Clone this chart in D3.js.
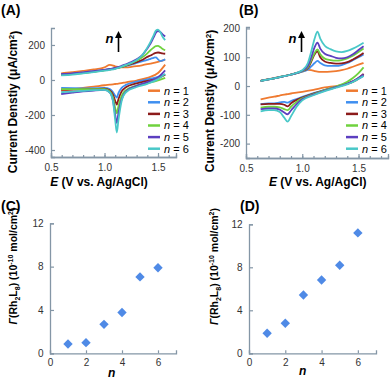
<!DOCTYPE html>
<html>
<head>
<meta charset="utf-8">
<script src="https://cdn.jsdelivr.net/npm/d3@7"></script>
<style>
body { margin: 0; background: #fff; }
text { font-family: "Liberation Sans", Arial, sans-serif; }
</style>
</head>
<body>
<div id="chart"></div>
<script>
// ---- data ----
var nValues = [1, 2, 3, 4, 5, 6];
var lineColors = ["#ef7a30", "#3f8ff0", "#8c1b1b", "#6fd23e", "#5c3fc0", "#49c8c8"];

// (A) forward scan
var aUpperE = [0.595, 0.7, 0.8, 0.9, 1.0, 1.05, 1.1, 1.15, 1.2, 1.25, 1.3, 1.35, 1.4, 1.43, 1.46, 1.48, 1.5, 1.52, 1.54, 1.567];
var aUpper = [
    [38, 45, 52, 60, 72, 86, 78, 72, 72, 75, 79, 84, 90, 94, 98, 101, 104, 107, 111, 116],
    [32, 36, 42, 49, 57, 62, 67, 73, 80, 88, 97, 106, 115, 121, 127, 129, 118, 108, 110, 118],
    [30, 35, 41, 48, 56, 61, 66, 73, 82, 92, 102, 114, 132, 140, 150, 155, 157, 155, 152, 150],
    [28, 34, 40, 47, 55, 60, 66, 74, 84, 96, 110, 128, 152, 170, 186, 193, 195, 188, 178, 170],
    [34, 38, 44, 51, 58, 63, 69, 78, 90, 102, 118, 140, 180, 208, 245, 270, 280, 275, 262, 248],
    [26, 31, 38, 45, 53, 58, 64, 74, 86, 98, 114, 140, 185, 218, 256, 282, 288, 275, 250, 228]
];
// (A) reverse scan
var aLowerE = [0.595, 0.7, 0.8, 0.9, 1.0, 1.05, 1.08, 1.1, 1.115, 1.13, 1.16, 1.2, 1.3, 1.4, 1.5, 1.567];
var aLower = [
    [-62, -53, -45, -38, -30, -27, -25, -23, -22, -21, -18, -13, -3, 12, 40, 88],
    [-45, -47, -48, -47, -45, -52, -70, -90, -100, -75, -45, -28, -10, 3, 18, 32],
    [-55, -55, -54, -52, -50, -60, -85, -120, -140, -110, -65, -42, -20, -5, 10, 30],
    [-52, -52, -52, -52, -52, -65, -100, -160, -190, -150, -90, -58, -32, -18, -3, 12],
    [-80, -72, -65, -60, -57, -72, -120, -200, -245, -190, -110, -65, -33, -12, 15, 55],
    [-70, -66, -62, -58, -56, -72, -125, -230, -300, -230, -120, -70, -40, -22, 5, 35]
];

// (B) forward scan
var bUpperE = [0.63, 0.7, 0.8, 0.9, 1.0, 1.05, 1.08, 1.11, 1.135, 1.16, 1.2, 1.25, 1.3, 1.35, 1.4, 1.45, 1.5, 1.545];
var bUpper = [
    [19, 24, 32, 40, 50, 56, 55, 52, 50, 49, 49, 50, 52, 55, 60, 67, 74, 80],
    [18, 23, 31, 40, 50, 57, 68, 80, 87, 80, 72, 70, 70, 73, 80, 90, 100, 110],
    [18, 23, 31, 40, 52, 62, 85, 110, 120, 100, 85, 80, 78, 79, 83, 92, 103, 115],
    [18, 23, 31, 40, 52, 65, 90, 115, 127, 110, 95, 90, 88, 90, 96, 105, 118, 130],
    [18, 23, 31, 40, 53, 70, 100, 135, 151, 130, 112, 105, 98, 96, 100, 110, 125, 138],
    [18, 23, 31, 40, 55, 80, 120, 165, 189, 165, 140, 128, 120, 118, 122, 130, 140, 150]
];
// (B) reverse scan
var bLowerE = [0.63, 0.7, 0.75, 0.8, 0.84, 0.87, 0.9, 0.95, 1.0, 1.1, 1.2, 1.3, 1.4, 1.45, 1.5, 1.545];
var bLower = [
    [-46, -40, -37, -33, -30, -28, -26, -23, -20, -13, -5, 0, 7, 14, 25, 40],
    [-63, -60, -60, -57, -55, -58, -52, -45, -38, -25, -13, -3, 8, 15, 25, 35],
    [-64, -62, -62, -62, -65, -71, -60, -48, -40, -26, -14, -4, 8, 16, 28, 42],
    [-75, -72, -72, -74, -80, -84, -72, -55, -43, -28, -14, -2, 15, 28, 45, 65],
    [-80, -78, -78, -82, -92, -98, -85, -63, -46, -30, -16, -4, 8, 16, 28, 40],
    [-88, -84, -84, -90, -110, -124, -105, -72, -50, -32, -18, -6, 6, 14, 25, 35]
];

// (C) and (D) surface coverage, 10^-10 mol/cm2
var cGamma = [0.86, 0.98, 2.67, 3.77, 7.05, 7.9];
var dGamma = [1.86, 2.79, 5.42, 6.82, 8.19, 11.2];

var eTicks = [0.5, 1.0, 1.5];
var aTicks = [-400, -200, 0, 200];
var bTicks = [-200, -100, 0, 100, 200];
var gammaTicks = [0, 4, 8, 12];
var nTicks = [0, 2, 4, 6];

var svg = d3.select("#chart").append("svg")
    .attr("width", 392)
    .attr("height", 380);

var axisColor = "#8496a6";
var tickColor = "#333";

function styleAxis(g) {
    g.select(".domain").attr("stroke", axisColor).attr("stroke-width", 1.3);
    g.selectAll(".tick line").attr("stroke", axisColor).attr("stroke-width", 1.2);
    g.selectAll(".tick text").attr("fill", tickColor).style("font-size", "10px")
        .style("font-family", "Liberation Sans, Arial, sans-serif");
}

function plainNum(d) { return String(d); }

function panelLabel(txt, x, y) {
    svg.append("text").attr("x", x).attr("y", y)
        .style("font-size", "14px").style("font-weight", "bold")
        .text(txt);
}

// ---------- cyclic voltammogram panel ----------
CvChart = function(_box, _upperE, _upper, _lowerE, _lower, _ticks) {
    this.box = _box;
    this.upperE = _upperE;
    this.upper = _upper;
    this.lowerE = _lowerE;
    this.lower = _lower;
    this.ticks = _ticks;
    this.initVis();
}

CvChart.prototype.initVis = function() {
    var vis = this;
    vis.g = svg.append("g")
        .attr("transform", "translate(" + vis.box.left + "," + vis.box.top + ")");

    vis.x = d3.scaleLinear().domain(vis.box.xDomain).range([0, vis.box.width]);
    vis.y = d3.scaleLinear().domain(vis.box.yDomain).range([vis.box.height, 0]);

    // minor ticks every 0.1 V
    var minor = d3.range(6, Math.floor(vis.box.xDomain[1] * 10) + 1).map(function(d){ return d / 10; });
    vis.g.append("g")
        .attr("transform", "translate(0," + vis.box.height + ")")
        .call(d3.axisBottom(vis.x).tickValues(minor).tickSize(-2).tickFormat(""))
        .call(styleAxis);

    vis.g.append("g")
        .attr("transform", "translate(0," + vis.box.height + ")")
        .call(d3.axisBottom(vis.x).tickValues(eTicks).tickSize(-4).tickPadding(6.5)
            .tickFormat(d3.format(".1f")))
        .call(styleAxis);

    vis.g.append("g")
        .call(d3.axisLeft(vis.y).tickValues(vis.ticks).tickSize(-4).tickPadding(6).tickFormat(plainNum))
        .call(styleAxis);

    vis.line = d3.line()
        .x(function(d){ return vis.x(d[0]); })
        .y(function(d){ return vis.y(d[1]); })
        .curve(d3.curveMonotoneX);

    // axis titles
    var xt = vis.g.append("text")
        .attr("x", vis.box.xTitle[0] - vis.box.left)
        .attr("y", vis.box.xTitle[1] - vis.box.top)
        .attr("text-anchor", "middle")
        .style("font-size", "12px").style("font-weight", "bold");
    xt.append("tspan").style("font-style", "italic").text("E");
    xt.append("tspan").text(" (V vs. Ag/AgCl)");

    var yt = svg.append("text")
        .attr("transform", "translate(" + vis.box.yTitle[0] + "," + vis.box.yTitle[1] + ") rotate(-90)")
        .attr("text-anchor", "middle")
        .attr("dy", "0.35em")
        .style("font-size", "12px").style("font-weight", "bold");
    yt.append("tspan").text("Current Denstiy (\u03bcA/cm");
    yt.append("tspan").attr("dy", "-0.4em").style("font-size", "8px").text("2");
    yt.append("tspan").attr("dy", "0.4em").text(")");

    vis.updateVis();
}

CvChart.prototype.updateVis = function() {
    var vis = this;

    nValues.forEach(function(n, i){
        var up = vis.upperE.map(function(e, j){ return [e, vis.upper[i][j]]; });
        var low = vis.lowerE.map(function(e, j){ return [e, vis.lower[i][j]]; });
        [up, low].forEach(function(pts){
            vis.g.append("path")
                .datum(pts)
                .attr("fill", "none")
                .attr("stroke", lineColors[i])
                .attr("stroke-width", 1.8)
                .attr("d", vis.line);
        });
    });

    // legend
    var leg = vis.g.selectAll(".legend")
        .data(nValues)
        .enter().append("g")
        .attr("class", "legend")
        .attr("transform", function(d, i){
            return "translate(" + (vis.box.legend[0] - vis.box.left) + "," +
                (vis.box.legend[1] - vis.box.top + i * 11.6) + ")";
        });
    leg.append("line")
        .attr("x1", 0).attr("x2", 12)
        .attr("stroke", function(d, i){ return lineColors[i]; })
        .attr("stroke-width", 2.5);
    var lt = leg.append("text")
        .attr("x", 16).attr("dy", "0.35em")
        .style("font-size", "11px");
    lt.append("tspan").style("font-style", "italic").text("n");
    lt.append("tspan").text(function(d){ return " = " + d; });

    // "n" arrow
    var ax = vis.box.arrow[0] - vis.box.left, ay = vis.box.arrow[1] - vis.box.top;
    vis.g.append("text")
        .attr("x", ax - 5).attr("y", ay + 12)
        .attr("text-anchor", "end")
        .style("font-size", "13px").style("font-weight", "bold").style("font-style", "italic")
        .text("n");
    vis.g.append("line")
        .attr("x1", ax).attr("x2", ax)
        .attr("y1", ay + 21).attr("y2", ay + 5)
        .attr("stroke", "#000").attr("stroke-width", 1.6);
    vis.g.append("path")
        .attr("d", "M" + (ax - 3.5) + "," + (ay + 7) + "L" + ax + "," + ay + "L" + (ax + 3.5) + "," + (ay + 7) + "Z")
        .attr("fill", "#000");
}

// ---------- coverage scatter panel ----------
GammaChart = function(_box, _values) {
    this.box = _box;
    this.values = _values;
    this.initVis();
}

GammaChart.prototype.initVis = function() {
    var vis = this;
    vis.g = svg.append("g")
        .attr("transform", "translate(" + vis.box.left + "," + vis.box.top + ")");

    vis.x = d3.scaleLinear().domain([0, 7]).range([0, vis.box.width]);
    vis.y = d3.scaleLinear().domain([0, 12]).range([vis.box.height, 0]);

    vis.g.append("g")
        .attr("transform", "translate(0," + vis.box.height + ")")
        .call(d3.axisBottom(vis.x).tickValues(nTicks).tickSize(-3).tickPadding(6).tickFormat(plainNum))
        .call(styleAxis);
    vis.g.append("g")
        .call(d3.axisLeft(vis.y).tickValues(gammaTicks).tickSize(-4).tickPadding(6.5).tickFormat(plainNum))
        .call(styleAxis);

    vis.g.append("text")
        .attr("x", vis.box.xTitle[0] - vis.box.left)
        .attr("y", vis.box.xTitle[1] - vis.box.top)
        .attr("text-anchor", "middle")
        .style("font-size", "12px").style("font-weight", "bold").style("font-style", "italic")
        .text("n");

    var yt = svg.append("text")
        .attr("transform", "translate(" + vis.box.yTitle[0] + "," + vis.box.yTitle[1] + ") rotate(-90)")
        .attr("text-anchor", "middle")
        .attr("dy", "0.35em")
        .style("font-size", "10.5px").style("font-weight", "bold");
    yt.append("tspan").style("font-style", "italic").text("\u0393");
    yt.append("tspan").text("(Rh");
    yt.append("tspan").attr("dy", "3").style("font-size", "7px").text("2");
    yt.append("tspan").attr("dy", "-3").text("L");
    yt.append("tspan").attr("dy", "3").style("font-size", "7px").text("8");
    yt.append("tspan").attr("dy", "-3").text(") (10");
    yt.append("tspan").attr("dy", "-4").style("font-size", "7px").text("-10");
    yt.append("tspan").attr("dy", "4").text(" mol/cm");
    yt.append("tspan").attr("dy", "-4").style("font-size", "7px").text("2");
    yt.append("tspan").attr("dy", "4").text(")");

    vis.updateVis();
}

GammaChart.prototype.updateVis = function() {
    var vis = this;
    vis.g.selectAll(".pt")
        .data(vis.values)
        .enter().append("path")
        .attr("class", "pt")
        .attr("d", d3.symbol().type(d3.symbolSquare).size(44))
        .attr("fill", "#4f8ae6")
        .attr("transform", function(d, i){
            return "translate(" + vis.x(nValues[i]) + "," + vis.y(d) + ") rotate(45)";
        });
}

new CvChart({left: 51, top: 28, width: 125, height: 129, xDomain: [0.5, 1.668], yDomain: [-440, 297],
    xTitle: [99, 186], yTitle: [13, 102], legend: [148, 90.7], arrow: [118.5, 31]},
    aUpperE, aUpper, aLowerE, aLower, aTicks);
new CvChart({left: 246, top: 27, width: 142, height: 131, xDomain: [0.5, 1.762], yDomain: [-250, 205],
    xTitle: [317.7, 186], yTitle: [209.5, 101], legend: [346, 90.7], arrow: [301.5, 31]},
    bUpperE, bUpper, bLowerE, bLower, bTicks);
new GammaChart({left: 50, top: 223.3, width: 126, height: 130, xTitle: [111.7, 377], yTitle: [13, 266]}, cGamma);
new GammaChart({left: 249, top: 224.3, width: 127, height: 129, xTitle: [302.7, 375], yTitle: [214, 266.5]}, dGamma);

panelLabel("(A)", 1, 15);
panelLabel("(B)", 239, 15);
panelLabel("(C)", 1, 211);
panelLabel("(D)", 240, 211);
</script>
</body>
</html>
